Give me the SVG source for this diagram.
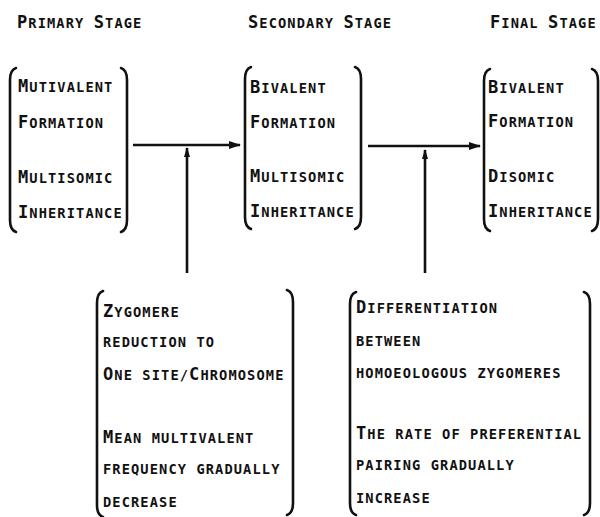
<svg xmlns="http://www.w3.org/2000/svg" width="600" height="517" viewBox="0 0 600 517">
<defs>
<style>
text{font-family:"DejaVu Sans Mono","Liberation Mono",monospace;font-weight:bold;font-size:13.7px;letter-spacing:1.1px;fill:#111}
.c{font-size:17px}
.br{fill:none;stroke:#111;stroke-width:2.6;stroke-linecap:round}
.ln{fill:none;stroke:#111;stroke-width:2.6}
</style>
<marker id="ah" viewBox="0 0 12 8" refX="11" refY="4" markerWidth="12" markerHeight="8" markerUnits="userSpaceOnUse" orient="auto">
<path d="M0,0 L12,4 L0,8 Z" fill="#111"/>
</marker>
<marker id="ahs" viewBox="0 0 10 6" refX="9" refY="3" markerWidth="10" markerHeight="6" markerUnits="userSpaceOnUse" orient="auto">
<path d="M0,0 L10,3 L0,6 Z" fill="#111"/>
</marker>
</defs>
<rect width="600" height="517" fill="#fff"/>
<g id="headers">
<text x="17" y="28"><tspan class="c">P</tspan>RIMARY <tspan class="c">S</tspan>TAGE</text>
<text x="248" y="28"><tspan class="c">S</tspan>ECONDARY <tspan class="c">S</tspan>TAGE</text>
<text x="490" y="28"><tspan class="c">F</tspan>INAL <tspan class="c">S</tspan>TAGE</text>
</g>
<g id="primary">
<path class="br" d="M16,68 Q10,70 10,80 V220 Q10,230 16,232"/>
<path class="br" d="M121,68 Q127,70 127,80 V220 Q127,230 121,232"/>
<text x="18" y="92"><tspan class="c">M</tspan>UTIVALENT</text>
<text x="18" y="128"><tspan class="c">F</tspan>ORMATION</text>
<text x="18" y="183"><tspan class="c">M</tspan>ULTISOMIC</text>
<text x="18" y="218"><tspan class="c">I</tspan>NHERITANCE</text>
</g>
<g id="secondary">
<path class="br" d="M251,67 Q245,69 245,79 V217 Q245,227 251,229"/>
<path class="br" d="M355,67 Q361,69 361,79 V217 Q361,227 355,229"/>
<text x="250" y="93"><tspan class="c">B</tspan>IVALENT</text>
<text x="250" y="128"><tspan class="c">F</tspan>ORMATION</text>
<text x="250" y="182"><tspan class="c">M</tspan>ULTISOMIC</text>
<text x="250" y="217"><tspan class="c">I</tspan>NHERITANCE</text>
</g>
<g id="final">
<path class="br" d="M490,69 Q484,71 484,81 V219 Q484,229 490,231"/>
<path class="br" d="M592,69 Q598,71 598,81 V219 Q598,229 592,231"/>
<text x="488" y="93"><tspan class="c">B</tspan>IVALENT</text>
<text x="488" y="127"><tspan class="c">F</tspan>ORMATION</text>
<text x="488" y="182"><tspan class="c">D</tspan>ISOMIC</text>
<text x="488" y="217"><tspan class="c">I</tspan>NHERITANCE</text>
</g>
<g id="factor1">
<path class="br" d="M103,291 Q97,293 97,303 V505 Q97,515 103,517"/>
<path class="br" d="M287,290 Q293,292 293,302 V503 Q293,513 287,515"/>
<text x="103" y="317"><tspan class="c">Z</tspan>YGOMERE</text>
<text x="103" y="347">REDUCTION TO</text>
<text x="103" y="380"><tspan class="c">O</tspan>NE SITE/<tspan class="c">C</tspan>HROMOSOME</text>
<text x="103" y="443"><tspan class="c">M</tspan>EAN MULTIVALENT</text>
<text x="103" y="474">FREQUENCY GRADUALLY</text>
<text x="103" y="507">DECREASE</text>
</g>
<g id="factor2">
<path class="br" d="M356,292 Q350,294 350,304 V503 Q350,513 356,515"/>
<path class="br" d="M584,292 Q590,294 590,304 V503 Q590,513 584,515"/>
<text x="356" y="313"><tspan class="c">D</tspan>IFFERENTIATION</text>
<text x="356" y="346">BETWEEN</text>
<text x="356" y="378">HOMOEOLOGOUS ZYGOMERES</text>
<text x="356" y="439"><tspan class="c">T</tspan>HE RATE OF PREFERENTIAL</text>
<text x="356" y="470">PAIRING GRADUALLY</text>
<text x="356" y="503">INCREASE</text>
</g>
<g id="connectors">
<line class="ln" x1="133" y1="145" x2="240" y2="145" marker-end="url(#ah)"/>
<line class="ln" x1="368" y1="146" x2="480" y2="146" marker-end="url(#ah)"/>
<line class="ln" x1="187" y1="273" x2="187" y2="148" marker-end="url(#ahs)"/>
<line class="ln" x1="425" y1="273" x2="425" y2="150" marker-end="url(#ahs)"/>
</g>
</svg>
